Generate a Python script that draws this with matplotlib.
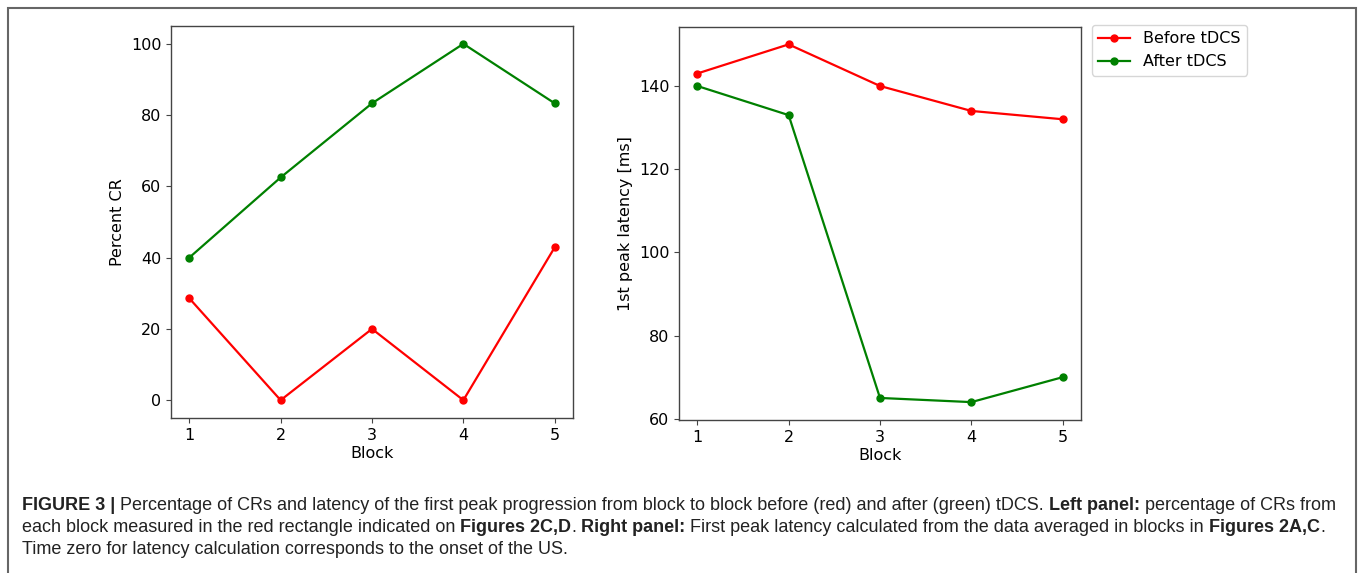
import numpy as np
import matplotlib
matplotlib.use('Agg')
import matplotlib.pyplot as plt
from matplotlib.patches import Rectangle

# Dados
blocks = [1, 2, 3, 4, 5]
cr_before = [28.6, 0, 20, 0, 42.9]
cr_after = [40, 62.5, 83.3, 100, 83.3]
lat_before = [143, 150, 140, 134, 132]
lat_after = [140, 133, 65, 64, 70]

series_labels = ['Before tDCS', 'After tDCS']
x_label = 'Block'
y_label_left = 'Percent CR'
y_label_right = '1st peak latency [ms]'

caption_lines = [
    [('FIGURE 3 |', True), (' Percentage of CRs and latency of the first peak progression from block to block '
                            'before (red) and after (green) tDCS. ', False),
     ('Left panel:', True), (' percentage of CRs from', False)],
    [('each block measured in the red rectangle indicated on ', False), ('Figures 2C,D', True), ('. ', False),
     ('Right panel:', True), (' First peak latency calculated from the data averaged in blocks in ', False),
     ('Figures 2A,C', True), ('.', False)],
    [('Time zero for latency calculation corresponds to the onset of the US.', False)],
]

W, H = 1358, 573
fig = plt.figure(figsize=(W / 100, H / 100), dpi=100)
plt.rcParams['font.family'] = 'DejaVu Sans'

fs = 11.5
ax1 = fig.add_axes([171 / W, 1 - 418 / H, 402 / W, 392 / H])
ax2 = fig.add_axes([679 / W, 1 - 420 / H, 402 / W, 393.5 / H])

for ax, before, after, ylab in [(ax1, cr_before, cr_after, y_label_left),
                                (ax2, lat_before, lat_after, y_label_right)]:
    ax.plot(blocks, before, color='red', marker='o', markersize=5, linewidth=1.6, label=series_labels[0])
    ax.plot(blocks, after, color='green', marker='o', markersize=5, linewidth=1.6, label=series_labels[1])
    ax.set_xticks(blocks)
    ax.set_xlabel(x_label, fontsize=fs, labelpad=2)
    ax.set_ylabel(ylab, fontsize=fs)
    ax.tick_params(labelsize=fs, color='#444444')
    for s in ax.spines.values():
        s.set_color('#444444')
        s.set_linewidth(1.0)

ax1.set_yticks([0, 20, 40, 60, 80, 100])
ax2.set_yticks([60, 80, 100, 120, 140])

ax2.legend(loc='upper left', bbox_to_anchor=(1.027, 1.004), borderaxespad=0, fontsize=fs)

# Moldura externa
fig.patches.append(Rectangle((7.5 / W, -0.05), (1355.5 - 7.5) / W, 1.05 - 8 / H,
                             transform=fig.transFigure, fill=False, edgecolor='#666666',
                             linewidth=1.5, figure=fig))

# Legenda (texto) com partes em negrito
cap_font = ['Liberation Sans', 'DejaVu Sans']
cap_color = '#222222'
fig.canvas.draw()
renderer = fig.canvas.get_renderer()


def text_width(s, size, bold):
    t = fig.text(0, 0, s, fontsize=size, family=cap_font, fontweight='bold' if bold else 'normal')
    w = t.get_window_extent(renderer).width
    t.remove()
    return w


def seg_width(s, size, bold):
    # mede espaços iniciais/finais separadamente
    core = s.strip(' ')
    nsp = len(s) - len(s.lstrip(' ')) + len(s) - len(s.rstrip(' '))
    sp = text_width('x x', size, bold) - text_width('xx', size, bold)
    return (text_width(core, size, bold) if core else 0) + nsp * sp, core, len(s) - len(s.lstrip(' ')), sp


# ajusta o tamanho para a largura da primeira linha
base = 12.0
w0 = sum(seg_width(s, base, b)[0] for s, b in caption_lines[0])
cap_size = base * (1338 - 22) / w0

for i, line in enumerate(caption_lines):
    x = 22.0
    y = 1 - (510 + 22 * i) / H
    for s, b in line:
        w, core, lead, sp = seg_width(s, cap_size, b)
        if core:
            fig.text((x + lead * sp) / W, y, core, fontsize=cap_size, family=cap_font,
                     fontweight='bold' if b else 'normal', color=cap_color, va='baseline')
        x += w

fig.savefig('out.png', dpi=100)
